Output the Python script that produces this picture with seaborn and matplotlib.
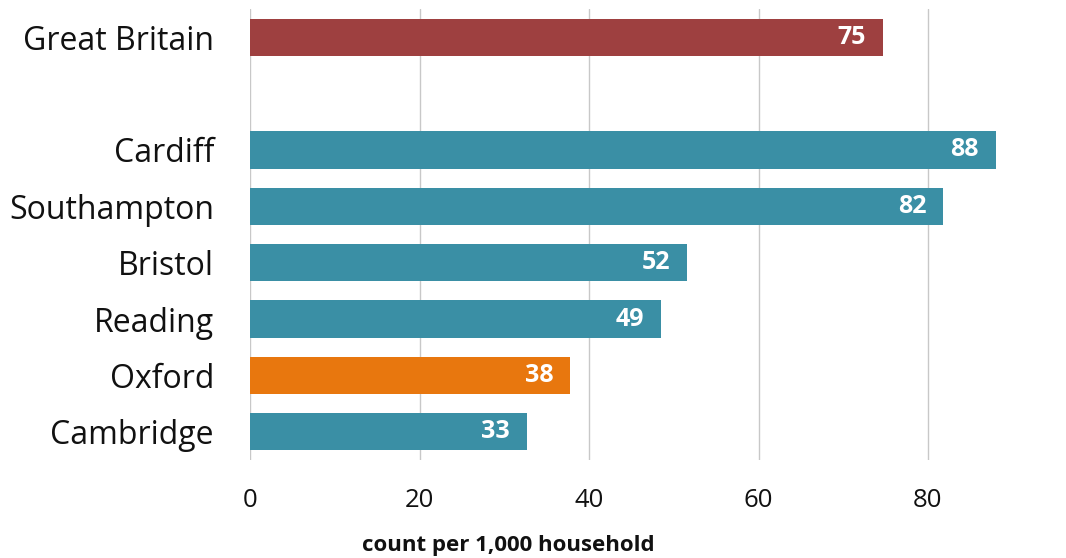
import matplotlib
matplotlib.use("Agg")
import matplotlib.pyplot as plt
import seaborn as sns
import pandas as pd

regions = ["Great Britain", "Cardiff", "Southampton", "Bristol", "Reading", "Oxford", "Cambridge"]
values = [74.7, 88.0, 81.8, 51.6, 48.5, 37.8, 32.7]
labels = ["75", "88", "82", "52", "49", "38", "33"]
colors = ["#9E4040", "#3A8FA5", "#3A8FA5", "#3A8FA5", "#3A8FA5", "#E8770E", "#3A8FA5"]
order = ["Great Britain", " ", "Cardiff", "Southampton", "Bristol", "Reading", "Oxford", "Cambridge"]
xticks = [0, 20, 40, 60, 80]

sns.set_style("white")
plt.rcParams["font.family"] = ["Open Sans", "DejaVu Sans"]

df = pd.DataFrame({"region": regions, "value": values})
palette = dict(zip(regions, colors))

fig = plt.figure(figsize=(10.66, 5.58), dpi=100)
W, H = 1066, 558
left_px, right_px, top_px, bot_px = 250, 250 + 95 * 8.475, 9, 460
ax = fig.add_axes([left_px / W, 1 - bot_px / H, (right_px - left_px) / W, (bot_px - top_px) / H])

sns.barplot(data=df, x="value", y="region", hue="region", palette=palette, order=order,
            hue_order=regions, width=0.66, orient="h", legend=False, ax=ax, saturation=1,
            edgecolor="none")

ax.set_xlim(0, 95)
ax.set_ylim(7.5, -0.5)
ax.set_xticks(xticks)
ax.set_xticklabels([str(t) for t in xticks], fontsize=18.5, color="#111111")
for t in ax.get_yticklabels():
    t.set_color("#111111")
    t.set_va("center_baseline")
ax.tick_params(axis="x", length=0, pad=20)
ax.tick_params(axis="y", length=0, pad=26, labelsize=23)
ax.grid(axis="x", color="#C8C8C8", linewidth=1)
ax.grid(axis="y", visible=False)
ax.set_axisbelow(True)
for s in ax.spines.values():
    s.set_visible(False)
ax.set_xlabel("")
ax.set_ylabel("")

for name, v, lab in zip(regions, values, labels):
    yi = order.index(name)
    ax.text(v - 2.0, yi, lab, ha="right", va="center", color="white",
            fontsize=18, fontweight="bold")

fig.text(508 / W, 1 - 545 / H, "count per 1,000 household", ha="center", va="center",
         fontsize=16, fontweight="bold", color="#111111")

fig.savefig("out.png", dpi=100)
